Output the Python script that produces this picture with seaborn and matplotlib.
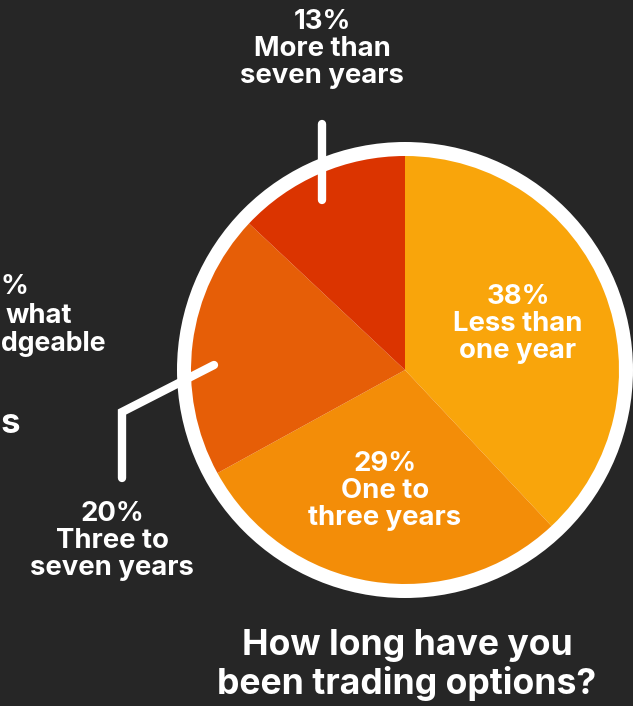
import matplotlib
matplotlib.use("Agg")
import matplotlib.pyplot as plt
import seaborn as sns
from matplotlib.patches import Circle

# Survey answers: how long respondents have traded options
categories = ["Less than\none year", "One to\nthree years", "Three to\nseven years", "More than\nseven years"]
shares = [38, 29, 20, 13]
slice_colors = ["#F9A50B", "#F38D08", "#E65E07", "#DB3400"]

# fragments of the neighbouring panel's labels, cut by the left edge
side_fragments = ["%", "what", "dgeable", "s"]

title_text = "How long have you\nbeen trading options?"

BG = "#262626"
W, H = 633, 706

sns.set_theme(style="dark")
plt.rcParams["font.family"] = ["Inter", "DejaVu Sans"]
palette = sns.color_palette(slice_colors)

fig = plt.figure(figsize=(W / 100, H / 100), dpi=100, facecolor=BG)
ax = fig.add_axes([0, 0, 1, 1])
ax.set_facecolor(BG)

def py(y):
    """Convert a top-down pixel row to axis y."""
    return H - y

cx, cy = 405, py(370)

# white ring behind the pie
ax.add_patch(Circle((cx, cy), 228, facecolor="white", edgecolor="none", zorder=1))
wedges, _ = ax.pie(shares, colors=palette, startangle=90, counterclock=False,
                   center=(cx, cy), radius=214,
                   wedgeprops=dict(edgecolor="none", linewidth=0, zorder=2))
for w in wedges:
    w.set_zorder(2)

ax.set_xlim(0, W)
ax.set_ylim(0, H)
ax.set_aspect("equal")
ax.axis("off")

txt = dict(color="white", fontweight="bold", ha="center", va="center",
           fontsize=19.8, linespacing=1.07, zorder=5)

def label(x, y, i):
    ax.text(x, py(y), f"{shares[i]}%\n{categories[i]}", **txt)

label(518, 324, 0)
label(385, 491, 1)
label(112, 541, 2)
label(322, 49, 3)

# leader lines
lw = 6
ax.plot([322, 322], [py(124), py(200)], color="white", lw=lw,
        solid_capstyle="round", zorder=4)
ax.plot([214, 122, 122], [py(365), py(412), py(478)], color="white", lw=lw,
        solid_capstyle="round", solid_joinstyle="miter", zorder=4)

# partial labels of the neighbouring chart
frag = dict(color="white", fontweight="bold", ha="right", va="center", fontsize=19.8)
ax.text(28, py(287), side_fragments[0], **frag)
ax.text(72, py(316), side_fragments[1], **frag)
ax.text(1, py(344), side_fragments[2], **dict(frag, ha="left", fontsize=19.2))
ax.text(1, py(424), side_fragments[3], color="white", fontweight="bold",
        ha="left", va="center", fontsize=25)

ax.text(407, py(665), title_text, color="white", fontweight="bold",
        ha="center", va="center", fontsize=25.6, linespacing=1.13)

fig.savefig("out.png", dpi=100, facecolor=BG)
